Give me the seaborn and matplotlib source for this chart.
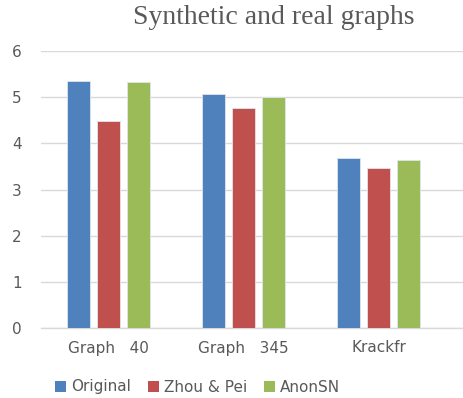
import matplotlib
matplotlib.use("Agg")
import matplotlib.pyplot as plt
import seaborn as sns
import pandas as pd
from matplotlib.patches import Patch

categories = ["Graph   40", "Graph   345", "Krackfr"]
series = ["Original", "Zhou & Pei", "AnonSN"]
original = [5.35, 5.06, 3.68]
zhou_pei = [4.48, 4.76, 3.46]
anonsn = [5.32, 5.00, 3.64]
yticks = [0, 1, 2, 3, 4, 5, 6]
colors = ["#4F81BD", "#C0504D", "#9BBB59"]

rows = []
for name, vals in zip(series, [original, zhou_pei, anonsn]):
    for cat, v in zip(categories, vals):
        rows.append({"category": cat, "series": name, "value": v})
df = pd.DataFrame(rows)

sns.set_theme(style="white")
plt.rcParams["font.family"] = ["DejaVu Sans"]

fig = plt.figure(figsize=(4.64, 3.98), dpi=100)
ax = fig.add_axes([41 / 464, (398 - 328) / 398, (464 - 41) / 464, (328 - 51) / 398])

sns.barplot(data=df, x="category", y="value", hue="series", order=categories,
            hue_order=series, palette=colors, saturation=1, width=0.667, gap=0.23,
            edgecolor="#dfe6f0", linewidth=0.6, legend=False, ax=ax, zorder=3)

ax.set_ylim(0, 6)
ax.set_xlim(-0.5, (464 - 41) / 135 - 0.5)
ax.set_yticks(yticks)
ax.yaxis.grid(True, color="#d9d9d9", linewidth=1.0, zorder=0)
ax.set_axisbelow(True)
for s in ["top", "right", "left"]:
    ax.spines[s].set_visible(False)
ax.spines["bottom"].set_color("#d9d9d9")
ax.spines["bottom"].set_linewidth(1.0)
ax.tick_params(axis="both", length=0, labelsize=11, colors="#595959")
ax.tick_params(axis="y", pad=21)
ax.tick_params(axis="x", pad=9)
for lbl in ax.get_yticklabels():
    lbl.set_horizontalalignment("left")
ax.set_xlabel("")
ax.set_ylabel("")

fig.text(274 / 464, 1 - 18 / 398, "Synthetic and real graphs", ha="center", va="center",
         fontsize=20, color="#595959", family=["Liberation Serif", "DejaVu Serif"])

handles = [Patch(facecolor=c, edgecolor="none") for c in colors]
fig.legend(handles, series, loc="center left", bbox_to_anchor=(55 / 464, 1 - 387 / 398),
           ncol=3, frameon=False, fontsize=11, labelcolor="#595959",
           handlelength=0.75, handleheight=0.75, handletextpad=0.3, columnspacing=1.1,
           borderaxespad=0, borderpad=0)

fig.savefig("out.png", dpi=100)
